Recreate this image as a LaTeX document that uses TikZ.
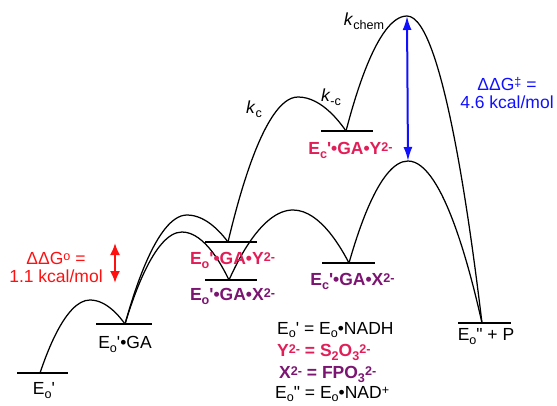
\documentclass[tikz,border=0pt]{standalone}
\usepackage{fontspec}
\setmainfont{Liberation Sans}
\usetikzlibrary{arrows.meta}
\definecolor{crim}{RGB}{226,30,88}
\definecolor{purp}{RGB}{124,20,114}
\definecolor{dgred}{RGB}{255,16,16}
\definecolor{dgblue}{RGB}{16,16,255}
\newcommand{\subx}[1]{\raisebox{-0.22em}{\scalebox{0.72}{#1}}}
\newcommand{\supx}[1]{\raisebox{0.2em}{\scalebox{0.72}{#1}}}
\newcommand{\prm}{\textquotesingle}
\begin{document}
\begin{tikzpicture}[x=1pt,y=-1pt,line cap=round,line join=round,
  curve/.style={line width=1.25pt},
  level/.style={line width=1.3pt,line cap=butt},
  lbl/.style={inner sep=0pt,font=\fontsize{17.5}{18}\selectfont}]
\useasboundingbox (0,0) rectangle (557,405);
% minima
\coordinate (Eo) at (40,373);
\coordinate (EoGA) at (125,324);
\coordinate (EoY) at (228,242);
\coordinate (EoX) at (229,280);
\coordinate (EcY) at (346,131);
\coordinate (EcX) at (349,263);
\coordinate (Ep) at (482,323);
% transition states
\coordinate (ts1) at (90,300);
\coordinate (tsY) at (187,215);
\coordinate (tsX) at (182,232);
\coordinate (tsc) at (298,97);
\coordinate (tsXc) at (293,210);
\coordinate (tschem) at (407,16);
\coordinate (tsXchem) at (408,161);
% levels
\draw[level] ([xshift=-23pt]Eo) -- ([xshift=28pt]Eo);
\draw[level] ([xshift=-29pt]EoGA) -- ([xshift=27pt]EoGA);
\draw[level] ([xshift=-23pt]EoY) -- ([xshift=29pt]EoY);
\draw[level] ([xshift=-24pt]EoX) -- ([xshift=28pt]EoX);
\draw[level] ([xshift=-25pt]EcY) -- ([xshift=27pt]EcY);
\draw[level] ([xshift=-27pt]EcX) -- ([xshift=26pt]EcX);
\draw[level] ([xshift=-24pt]Ep) -- ([xshift=29pt]Ep);
% barriers
\draw[curve] (Eo) parabola bend (ts1) (EoGA);
\draw[curve] (EoGA) parabola bend (tsY) (EoY);
\draw[curve] (EoGA) parabola bend (tsX) (EoX);
\draw[curve] (EoY) parabola bend (tsc) (EcY);
\draw[curve] (EoX) parabola bend (tsXc) (EcX);
\draw[curve] (EcY) parabola bend (tschem) (Ep);
\draw[curve] (EcX) parabola bend (tsXchem) (Ep);
% state labels
\node[lbl,below=9pt,xshift=4pt] (lEo) at (Eo) {E\subx{o}\prm};
\node[lbl,below=12pt] (lEoGA) at (EoGA) {E\subx{o}\prm\textbullet GA};
\node[lbl,below=10pt,xshift=4.5pt,text=crim,font=\fontsize{17.5}{18}\selectfont\bfseries] (lEoY) at (EoY) {E\subx{o}\prm\textbullet GA\textbullet Y\supx{2-}};
\node[lbl,below=8pt,xshift=3.5pt,text=purp,font=\fontsize{17.5}{18}\selectfont\bfseries] (lEoX) at (EoX) {E\subx{o}\prm\textbullet GA\textbullet X\supx{2-}};
\node[lbl,below=11pt,xshift=4.5pt,text=crim,font=\fontsize{17.5}{18}\selectfont\bfseries] (lEcY) at (EcY) {E\subx{c}\prm\textbullet GA\textbullet Y\supx{2-}};
\node[lbl,below=10pt,xshift=3.5pt,text=purp,font=\fontsize{17.5}{18}\selectfont\bfseries] (lEcX) at (EcX) {E\subx{c}\prm\textbullet GA\textbullet X\supx{2-}};
\node[lbl,below=5pt,xshift=4pt] (lEp) at (Ep) {E\subx{o}\textquotedbl{} + P};
% rate constants
\node[lbl] (kc) at (254,109) {\textit{k}\subx{c}};
\node[lbl] (kmc) at (331,97) {\textit{k}\subx{-c}};
\node[lbl] (kchem) at (364,21) {\textit{k}\subx{chem}};
% energy differences
\coordinate (dgtop) at (115,243);
\coordinate (dgbot) at (115,283);
\draw[<->,dgred,line width=2pt,>={Latex[length=12pt,width=10pt]}] (dgtop) -- (dgbot);
\node[lbl,text=dgred,align=center] (ddg0) at (56,267) {ΔΔG\supx{o} =\\1.1 kcal/mol};
\draw[<->,dgblue,line width=2pt,>={Latex[length=14pt,width=9pt]}] (tschem) -- (tsXchem);
\node[lbl,text=dgblue,align=center] (ddgts) at (507,93) {ΔΔG\supx{\textdaggerdbl} =\\4.6 kcal/mol};
% legend
\node[lbl,anchor=base west] (leg1) at (277,334) {E\subx{o}\prm{} = E\subx{o}\textbullet NADH};
\node[lbl,anchor=base west,text=crim,font=\fontsize{17.5}{18}\selectfont\bfseries] (leg2) at (277,356.5) {Y\supx{2-} = S\subx{2}O\subx{3}\supx{2-}};
\node[lbl,anchor=base west,text=purp,font=\fontsize{17.5}{18}\selectfont\bfseries] (leg3) at (279,378.5) {X\supx{2-} = FPO\subx{3}\supx{2-}};
\node[lbl,anchor=base west] (leg4) at (275,398) {E\subx{o}\textquotedbl{} = E\subx{o}\textbullet NAD\supx{+}};
\end{tikzpicture}
\end{document}
